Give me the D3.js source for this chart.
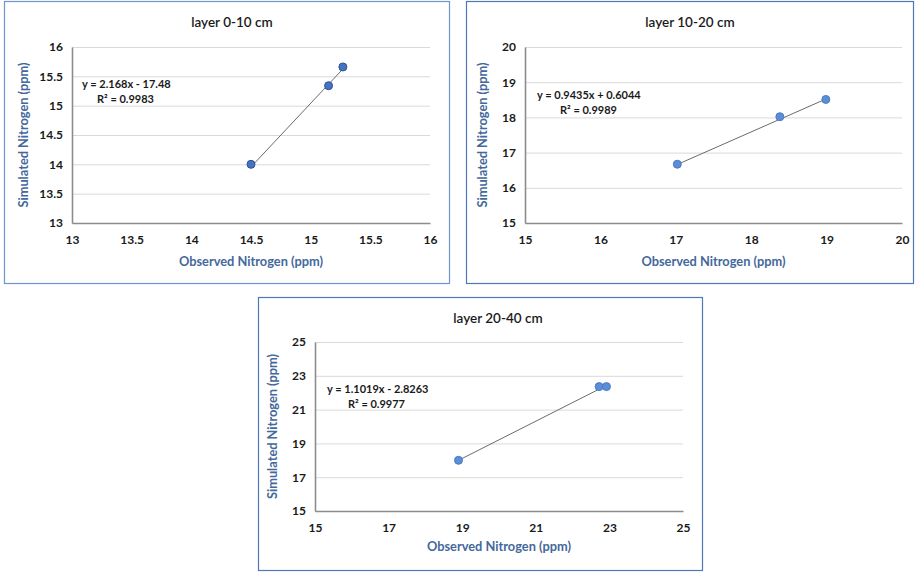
<!DOCTYPE html>
<html><head><meta charset="utf-8">
<script src="https://cdn.jsdelivr.net/npm/d3@7"></script>
<style>body{margin:0;background:#fff}svg{display:block}text{font-family:Lato,"Open Sans",sans-serif}</style>
</head><body>
<svg id="c" width="915" height="572"></svg>
<script>
// ---- data ----
const titles = ["layer 0-10 cm", "layer 10-20 cm", "layer 20-40 cm"];
const observed1 = [14.5, 15.15, 15.27];
const simulated1 = [14.0, 15.34, 15.66];
const observed2 = [17.02, 18.38, 18.99];
const simulated2 = [16.67, 18.02, 18.51];
const observed3 = [18.9, 22.72, 22.92];
const simulated3 = [18.0, 22.36, 22.36];
const equations = ["y = 2.168x - 17.48", "y = 0.9435x + 0.6044", "y = 1.1019x - 2.8263"];
const r2Labels = ["R\u00b2 = 0.9983", "R\u00b2 = 0.9989", "R\u00b2 = 0.9977"];
const slopes = [2.168, 0.9435, 1.1019];
const intercepts = [-17.48, 0.6044, -2.8263];
const ticks1 = [13, 13.5, 14, 14.5, 15, 15.5, 16];
const ticks2 = [15, 16, 17, 18, 19, 20];
const ticks3 = [15, 17, 19, 21, 23, 25];
const xTitle = "Observed Nitrogen (ppm)";
const yTitle = "Simulated Nitrogen (ppm)";

// ---- layout ----
const panels = [
  {box:[4,1,445,282], plot:[72,47,430,223], ticks:ticks1, obs:observed1, sim:simulated1, eq:[82,88], r2:[97,103], yt:44, xt:43, tx:232, ptFill:"#4472c4", ptStroke:"#2f528f", border:"#6f94d0"},
  {box:[466,1,447,282], plot:[525,47,902,223], ticks:ticks2, obs:observed2, sim:simulated2, eq:[537,99], r2:[560,114], yt:38, xt:43, tx:690, ptFill:"#5b8ed6", ptStroke:"#4a7cc4", border:"#4f78b8"},
  {box:[258,297,444,273], plot:[315,342,683,511], ticks:ticks3, obs:observed3, sim:simulated3, eq:[327,393], r2:[348,408], yt:38, xt:40, tx:498, ptFill:"#5b8ed6", ptStroke:"#4a7cc4", border:"#4f78b8"}
];

const svg = d3.select("#c");
svg.append("rect").attr("width",915).attr("height",572).attr("fill","#fff");

panels.forEach((p,i)=>{
  const g = svg.append("g");
  const [bx,by,bw,bh] = p.box;
  g.append("rect").attr("x",bx+0.5).attr("y",by+0.5).attr("width",bw).attr("height",bh)
    .attr("fill","#fff").attr("stroke",p.border).attr("stroke-width",1.2);
  const [x0,y0,x1,y1] = p.plot;
  const dom = d3.extent(p.ticks);
  const x = d3.scaleLinear().domain(dom).range([x0,x1]);
  const y = d3.scaleLinear().domain(dom).range([y1,y0]);

  // gridlines
  g.append("g").attr("transform",`translate(${x0},0)`)
    .call(d3.axisLeft(y).tickValues(p.ticks).tickSize(-(x1-x0)).tickFormat(""))
    .call(a=>a.select(".domain").remove())
    .call(a=>a.selectAll("line").attr("stroke","#d9d9d9").attr("stroke-width",1));

  // y axis
  const ya = g.append("g").attr("transform",`translate(${x0},0)`)
    .call(d3.axisLeft(y).tickValues(p.ticks).tickSize(0).tickPadding(9).tickFormat(d3.format("~g")));
  ya.select(".domain").attr("stroke","#8c8c8c").attr("stroke-width",1.6);
  ya.selectAll("text").attr("font-size",12).attr("font-weight","bold").attr("fill","#1a1a1a");

  // x axis
  const xa = g.append("g").attr("transform",`translate(0,${y1})`)
    .call(d3.axisBottom(x).tickValues(p.ticks).tickSize(0).tickPadding(12).tickFormat(d3.format("~g")));
  xa.select(".domain").attr("stroke","#8c8c8c").attr("stroke-width",1.6);
  xa.selectAll("text").attr("font-size",12).attr("font-weight","bold").attr("fill","#1a1a1a");

  // title
  g.append("text").attr("x",p.tx).attr("y",by+26)
    .attr("text-anchor","middle").attr("font-size",13.5).attr("font-weight",600).attr("fill","#1a1a1a")
    .text(titles[i]);
  // axis titles
  g.append("text").attr("x",(x0+x1)/2).attr("y",y1+p.xt).attr("text-anchor","middle")
    .attr("font-size",12.8).attr("font-weight","bold").attr("fill","#44689b").text(xTitle);
  g.append("text").attr("transform",`translate(${x0-p.yt},${(y0+y1)/2}) rotate(-90)`)
    .attr("text-anchor","middle").attr("font-size",12.8).attr("font-weight","bold").attr("fill","#44689b").text(yTitle);

  // trendline
  const xs = d3.extent(p.obs);
  g.append("line").attr("x1",x(xs[0])).attr("y1",y(slopes[i]*xs[0]+intercepts[i]))
    .attr("x2",x(xs[1])).attr("y2",y(slopes[i]*xs[1]+intercepts[i]))
    .attr("stroke","#6b6b6b").attr("stroke-width",1);

  // points
  g.selectAll("circle.pt").data(p.obs.map((o,k)=>[o,p.sim[k]])).join("circle")
    .attr("class","pt").attr("cx",d=>x(d[0])).attr("cy",d=>y(d[1])).attr("r",4)
    .attr("fill",p.ptFill).attr("stroke",p.ptStroke).attr("stroke-width",1);

  // equation labels
  g.append("text").attr("x",p.eq[0]).attr("y",p.eq[1]).attr("font-size",11).attr("font-weight","bold")
    .attr("fill","#1a1a1a").text(equations[i]);
  g.append("text").attr("x",p.r2[0]).attr("y",p.r2[1]).attr("font-size",11).attr("font-weight","bold")
    .attr("fill","#1a1a1a").text(r2Labels[i]);
});
</script>
</body></html>
